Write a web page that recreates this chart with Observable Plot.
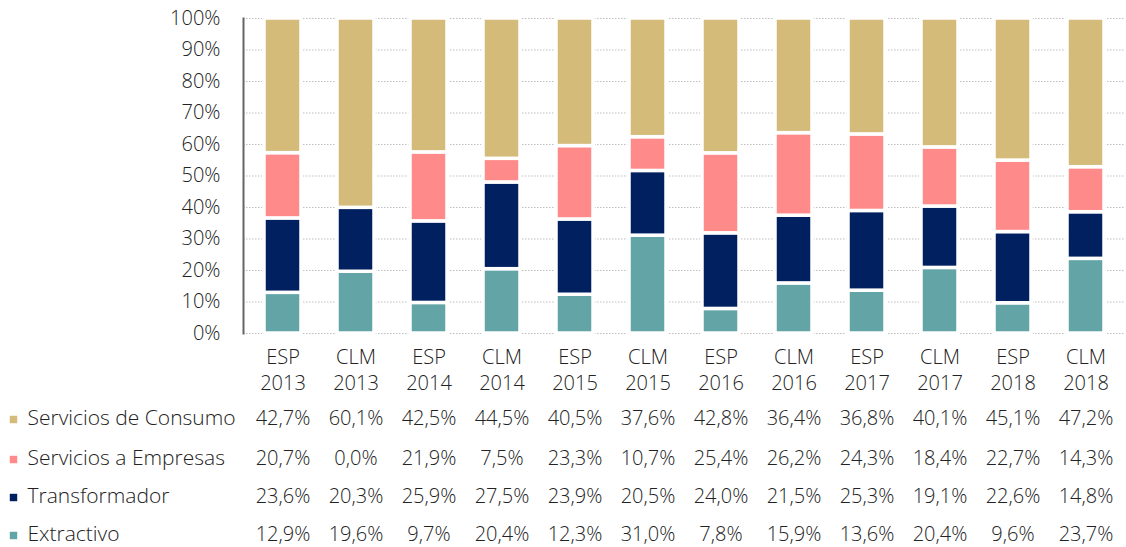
<!DOCTYPE html>
<html>
<head>
<meta charset="utf-8">
<script src="https://cdn.jsdelivr.net/npm/d3@7"></script>
<script src="https://cdn.jsdelivr.net/npm/@observablehq/plot@0.6"></script>
<style>
  body { margin: 0; background: #fff; }
  #chart svg { display: block; }
</style>
</head>
<body>
<div id="chart"></div>
<script>
const categories = ["ESP 2013","CLM 2013","ESP 2014","CLM 2014","ESP 2015","CLM 2015","ESP 2016","CLM 2016","ESP 2017","CLM 2017","ESP 2018","CLM 2018"];
const seriesNames = ["Servicios de Consumo","Servicios a Empresas","Transformador","Extractivo"];
const consumo       = [42.7, 60.1, 42.5, 44.5, 40.5, 37.6, 42.8, 36.4, 36.8, 40.1, 45.1, 47.2];
const empresas      = [20.7,  0.0, 21.9,  7.5, 23.3, 10.7, 25.4, 26.2, 24.3, 18.4, 22.7, 14.3];
const transformador = [23.6, 20.3, 25.9, 27.5, 23.9, 20.5, 24.0, 21.5, 25.3, 19.1, 22.6, 14.8];
const extractivo    = [12.9, 19.6,  9.7, 20.4, 12.3, 31.0,  7.8, 15.9, 13.6, 20.4,  9.6, 23.7];
const colors = ["#D4BB7A", "#FF8A8A", "#002060", "#63A5A6"];
const yTicks = [0, 0.1, 0.2, 0.3, 0.4, 0.5, 0.6, 0.7, 0.8, 0.9, 1.0];

const valuesBySeries = [consumo, empresas, transformador, extractivo];

// long table, bottom segment first
const rows = [];
for (let s = seriesNames.length - 1; s >= 0; s--) {
  categories.forEach((c, i) => rows.push({cat: c, series: seriesNames[s], value: valuesBySeries[s][i]}));
}

const fmt = v => v.toFixed(1).replace(".", ",") + "%";
const FONT = "'Open Sans', Lato, sans-serif";
const TXT = "#222222";
const rowDy = [85, 125, 163, 201];
const FW = 300;

const tableMarks = [];
seriesNames.forEach((name, r) => {
  tableMarks.push(Plot.text(categories, {
    x: d => d, text: (d, i) => fmt(valuesBySeries[r][i]),
    frameAnchor: "bottom", dy: rowDy[r], lineAnchor: "middle",
    fontSize: 20, fontWeight: FW, fill: TXT
  }));
  tableMarks.push(Plot.dot([name], {
    frameAnchor: "bottom-left", dx: -230, dy: rowDy[r] + 1,
    symbol: "square", r: 4.2, fill: colors[r], stroke: null
  }));
  tableMarks.push(Plot.text([name], {
    text: d => d, frameAnchor: "bottom-left", dx: -216, dy: rowDy[r],
    textAnchor: "start", lineAnchor: "middle", fontSize: 21, fontWeight: FW, fill: TXT
  }));
});

const chart = Plot.plot({
  width: 1126,
  height: 547,
  marginLeft: 243,
  marginRight: 1,
  marginTop: 18,
  marginBottom: 214,
  style: {fontFamily: FONT, fontSize: "20px", color: TXT, background: "#fff", overflow: "visible"},
  x: {domain: categories, paddingInner: 0.5, paddingOuter: 0.25, label: null},
  y: {domain: [0, 1], label: null},
  color: {domain: seriesNames, range: colors},
  marks: [
    Plot.gridY(yTicks, {stroke: "#bfbfbf", strokeOpacity: 1, strokeDasharray: "1.5,1.5", strokeWidth: 1}),
    Plot.barY(rows, Plot.stackY({offset: "normalize", order: null}, {
      x: "cat", y: "value", fill: "series", stroke: "white", strokeWidth: 3.5
    })),
    Plot.frame({anchor: "left", stroke: "#666", strokeWidth: 2}),
    Plot.axisY(yTicks, {tickSize: 0, tickPadding: 23, tickFormat: d3.format(".0%"), fontSize: 20, fontWeight: FW, fill: TXT, label: null}),
    Plot.axisX({tickSize: 0, tickPadding: 12, lineHeight: 1.3, fontSize: 20, fontWeight: FW, fill: TXT, label: null,
      tickFormat: d => d.replace(" ", "\n")}),
    ...tableMarks
  ]
});
document.getElementById("chart").appendChild(chart);
</script>
</body>
</html>
